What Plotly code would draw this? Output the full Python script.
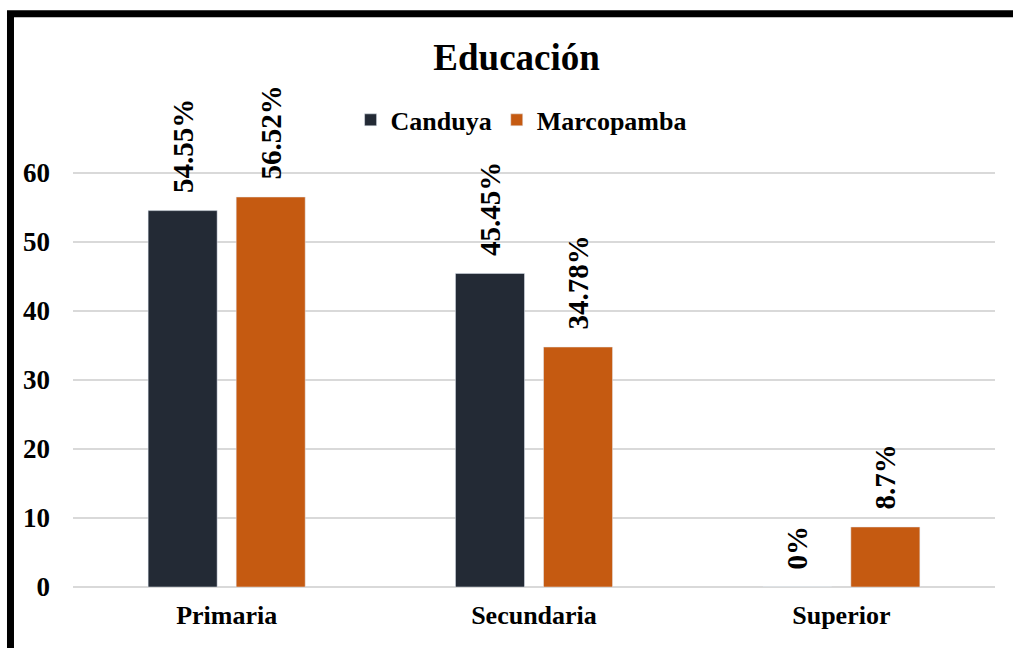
import plotly.graph_objects as go

categories = ["Primaria", "Secundaria", "Superior"]
canduya = [54.55, 45.45, 0]
marcopamba = [56.52, 34.78, 8.7]
canduya_labels = ["54.55%", "45.45%", "0%"]
marcopamba_labels = ["56.52%", "34.78%", "8.7%"]

FONT = "Liberation Serif"
PAD = "\u00a0\u00a0"
fig = go.Figure()
fig.add_trace(go.Bar(x=categories, y=canduya, name="Canduya", marker_color="#232a35",
                     text=[PAD + t for t in canduya_labels], textposition="outside",
                     textangle=-90, cliponaxis=False, constraintext="none",
                     textfont=dict(family=FONT, size=29, color="black", weight="bold")))
fig.add_trace(go.Bar(x=categories, y=marcopamba, name="Marcopamba", marker_color="#c55a11",
                     text=[PAD + t for t in marcopamba_labels], textposition="outside",
                     textangle=-90, cliponaxis=False, constraintext="none",
                     textfont=dict(family=FONT, size=29, color="black", weight="bold")))

fig.update_layout(
    width=1013, height=648,
    margin=dict(l=73, r=18, t=104, b=61),
    paper_bgcolor="white", plot_bgcolor="white",
    font=dict(family=FONT, color="black"),
    title=dict(text="Educación", x=0.51, xanchor="center", y=0.912, yanchor="middle",
               font=dict(family=FONT, size=37, color="black", weight="bold")),
    barmode="group", bargap=0.427, bargroupgap=0.216,
    legend=dict(orientation="h", x=0.486, xanchor="center", y=0.967, yanchor="middle",
                font=dict(family=FONT, size=26, color="black", weight="bold"), itemwidth=30,
                bgcolor="rgba(0,0,0,0)"),
    showlegend=True,
)
fig.update_yaxes(range=[0, 70], tickvals=[0, 10, 20, 30, 40, 50, 60],
                 showgrid=True, gridcolor="#d9d9d9", gridwidth=1.5,
                 zeroline=True, zerolinecolor="#d9d9d9", zerolinewidth=1.5,
                 tickfont=dict(family=FONT, size=27, color="black", weight="bold"),
                 ticklabelstandoff=22, showline=False)
fig.update_xaxes(showline=False,
                 tickfont=dict(family=FONT, size=26, color="black", weight="bold"),
                 ticklabelstandoff=10)
fig.add_shape(type="rect", xref="paper", yref="paper",
              x0=-0.0678, x1=1.2, y0=-0.3, y1=1.187,
              line=dict(color="black", width=7), fillcolor="rgba(0,0,0,0)", layer="above")
fig.write_html("out.html")
